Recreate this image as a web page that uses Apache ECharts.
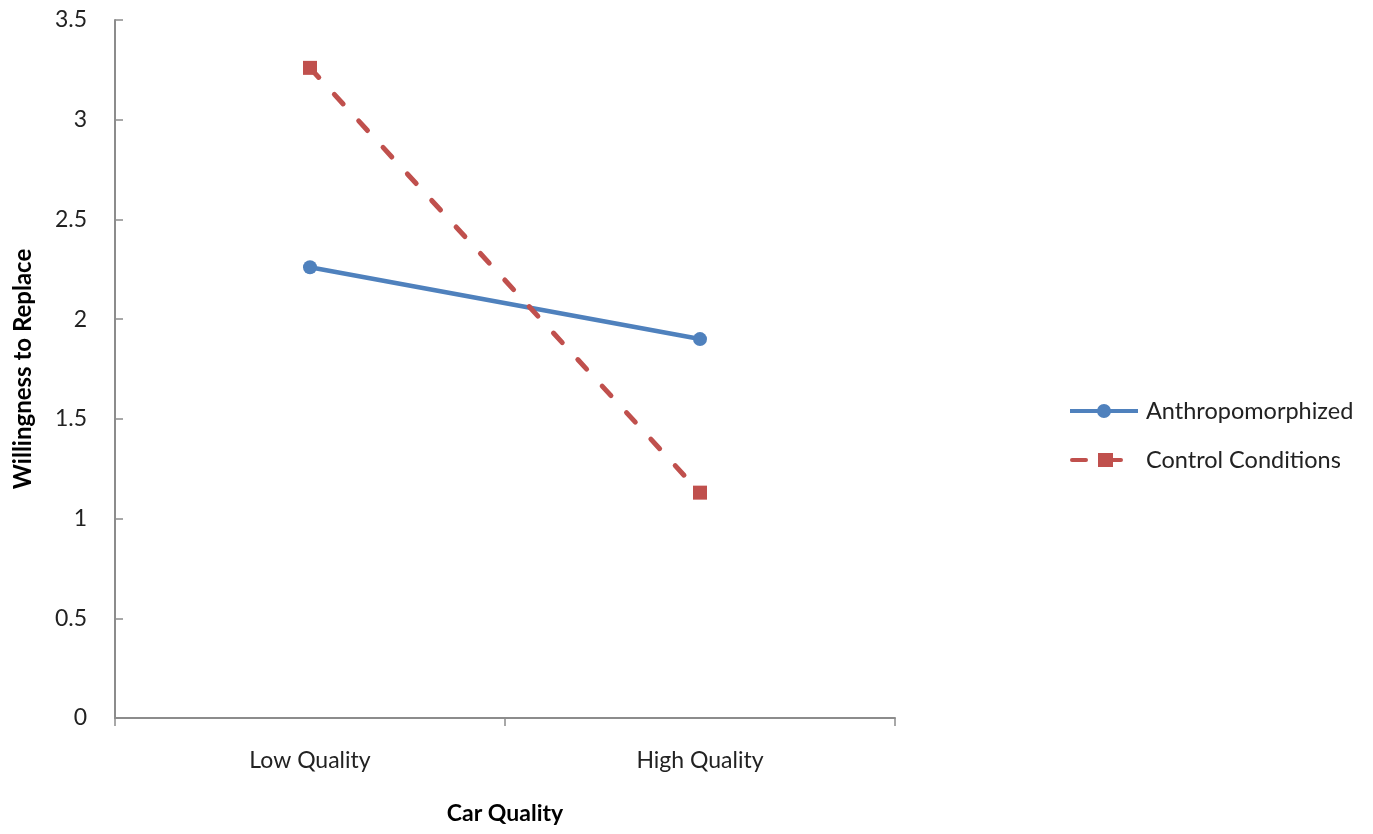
<!DOCTYPE html>
<html>
<head>
<meta charset="utf-8">
<script src="https://cdn.jsdelivr.net/npm/echarts@6/dist/echarts.min.js"></script>
<style>
  html, body { margin: 0; padding: 0; background: #fff; }
  #chart { width: 1373px; height: 834px; }
</style>
</head>
<body>
<div id="chart"></div>
<script>
// Car quality categories and willingness-to-replace means per condition
const categories = ['Low Quality', 'High Quality'];
const anthropomorphized = [2.26, 1.90];
const controlConditions = [3.26, 1.13];
const yTicks = { min: 0, max: 3.5, interval: 0.5 };

const FONT = 'Lato, "Open Sans", sans-serif';
const axisGray = '#8c8c8c';
const BLUE = '#4f81bd';
const RED = '#c0504d';

// Legend keys: a thick line with its marker, 68 x 14
const solidKey = 'path://M0,5 L68,5 L68,9 L0,9 Z M34,0 A7,7 0 1,1 34,14 A7,7 0 1,1 34,0 Z';
const dashedKey = 'path://M2,5 L16,5 A2,2 0 0,1 16,9 L2,9 A2,2 0 0,1 2,5 Z ' +
                  'M28,0 L43,0 L43,5 L51,5 A2,2 0 0,1 51,9 L43,9 L43,14 L28,14 Z ' +
                  'M68,7 L68,7 Z M0,7 L0,7 Z';

const chart = echarts.init(document.getElementById('chart'), null, { renderer: 'canvas' });
chart.setOption({
  backgroundColor: '#ffffff',
  animation: false,
  grid: { left: 115, right: 478, top: 20, bottom: 116 },
  legend: {
    orient: 'vertical',
    left: 1065,
    top: 394,
    itemWidth: 68,
    itemHeight: 14,
    itemGap: 25,
    textStyle: { fontFamily: FONT, fontSize: 23.5, color: '#222', padding: [0, 0, 0, 3] },
    data: [
      { name: 'Anthropomorphized', icon: solidKey },
      { name: 'Control Conditions', icon: dashedKey }
    ]
  },
  xAxis: {
    type: 'category',
    data: categories,
    boundaryGap: true,
    name: 'Car Quality',
    nameLocation: 'middle',
    nameGap: 84,
    nameTextStyle: { fontFamily: FONT, fontSize: 23, fontWeight: 'bold', color: '#000' },
    axisLine: { lineStyle: { color: axisGray, width: 2 } },
    axisTick: { show: true, length: 8, inside: false, lineStyle: { color: axisGray, width: 1.5 } },
    axisLabel: { fontFamily: FONT, fontSize: 23, color: '#222', margin: 31 },
    splitLine: { show: false }
  },
  yAxis: {
    type: 'value',
    min: yTicks.min,
    max: yTicks.max,
    interval: yTicks.interval,
    name: 'Willingness to Replace',
    nameLocation: 'middle',
    nameGap: 80,
    nameRotate: 90,
    nameTextStyle: { fontFamily: FONT, fontSize: 24, fontWeight: 'bold', color: '#000' },
    axisLine: { show: true, lineStyle: { color: axisGray, width: 2 } },
    axisTick: { show: true, inside: true, length: 8, lineStyle: { color: axisGray, width: 1.5 } },
    axisLabel: { fontFamily: FONT, fontSize: 23, color: '#222', margin: 28 },
    splitLine: { show: false }
  },
  series: [
    {
      name: 'Anthropomorphized',
      type: 'line',
      data: anthropomorphized,
      symbol: 'circle',
      symbolSize: 14,
      lineStyle: { color: BLUE, width: 4.5 },
      itemStyle: { color: BLUE }
    },
    {
      name: 'Control Conditions',
      type: 'line',
      data: controlConditions,
      symbol: 'rect',
      symbolSize: 14,
      lineStyle: { color: RED, width: 5, type: [13, 23], cap: 'round' },
      itemStyle: { color: RED }
    }
  ]
});
</script>
</body>
</html>
